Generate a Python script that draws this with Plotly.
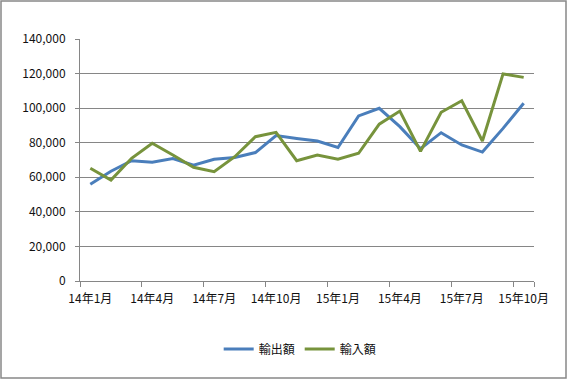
import plotly.graph_objects as go

months = ["14年1月", "14年2月", "14年3月", "14年4月", "14年5月", "14年6月",
          "14年7月", "14年8月", "14年9月", "14年10月", "14年11月", "14年12月",
          "15年1月", "15年2月", "15年3月", "15年4月", "15年5月", "15年6月",
          "15年7月", "15年8月", "15年9月", "15年10月"]
exports = [56000, 63500, 69600, 68700, 70800, 67000, 70400, 71500, 74300, 84100, 82500, 81000,
           77200, 95500, 99900, 89300, 76500, 85800, 78700, 74600, 88300, 102800]
imports = [65200, 58400, 71000, 79700, 72900, 65800, 63200, 71900, 83500, 86000, 69600, 72900,
           70400, 73900, 90700, 98300, 75000, 97600, 104300, 81000, 119800, 117800]
series_names = ["輸出額", "輸入額"]
y_ticks = [0, 20000, 40000, 60000, 80000, 100000, 120000, 140000]

font_family = "Noto Sans CJK JP, Noto Sans, sans-serif"

fig = go.Figure()
fig.add_trace(go.Scatter(x=months, y=exports, name=series_names[0], mode="lines",
                         line=dict(color="#4A7EBB", width=3)))
fig.add_trace(go.Scatter(x=months, y=imports, name=series_names[1], mode="lines",
                         line=dict(color="#77933C", width=3)))

W, H = 568, 381
L, R, T, B = 80, 34, 39, 100
pw, ph = W - L - R, H - T - B

fig.update_layout(
    width=W, height=H,
    margin=dict(l=L, r=R, t=T, b=B, autoexpand=False),
    paper_bgcolor="white", plot_bgcolor="white",
    font=dict(family=font_family, size=12, color="#111111"),
    showlegend=True,
    legend=dict(orientation="h", x=0.485, xanchor="center", y=-68 / ph, yanchor="middle",
                font=dict(size=12), itemwidth=30, tracegroupgap=0),
    xaxis=dict(type="category", tickmode="array", tickvals=months[::3],
               tickson="boundaries", ticks="outside", ticklen=5, tickcolor="#868686",
               showline=True, linecolor="#868686", linewidth=1,
               showgrid=False, range=[-0.5, len(months) - 0.5],
               tickangle=0, automargin=False, ticklabelstandoff=7,
               tickfont=dict(size=12)),
    yaxis=dict(range=[0, 140000], tickvals=y_ticks, tickformat=",",
               ticks="outside", ticklen=4, tickcolor="#868686",
               showline=True, linecolor="#868686", linewidth=1,
               showgrid=True, gridcolor="#868686", gridwidth=1,
               zeroline=False, automargin=False, ticklabelstandoff=7,
               tickfont=dict(size=12)),
)

# outer chart border
fig.add_shape(type="rect", xref="paper", yref="paper",
              x0=(1 - L) / pw, x1=(W - 2 - L) / pw,
              y0=-(H - 3 - T - ph) / ph, y1=1 + (T - 1) / ph,
              line=dict(color="#888888", width=1.5), fillcolor="rgba(0,0,0,0)", layer="below")

fig.write_html("out.html", config={"displayModeBar": False},
               post_script="document.body.style.margin='0px';document.body.style.overflow='hidden';")
